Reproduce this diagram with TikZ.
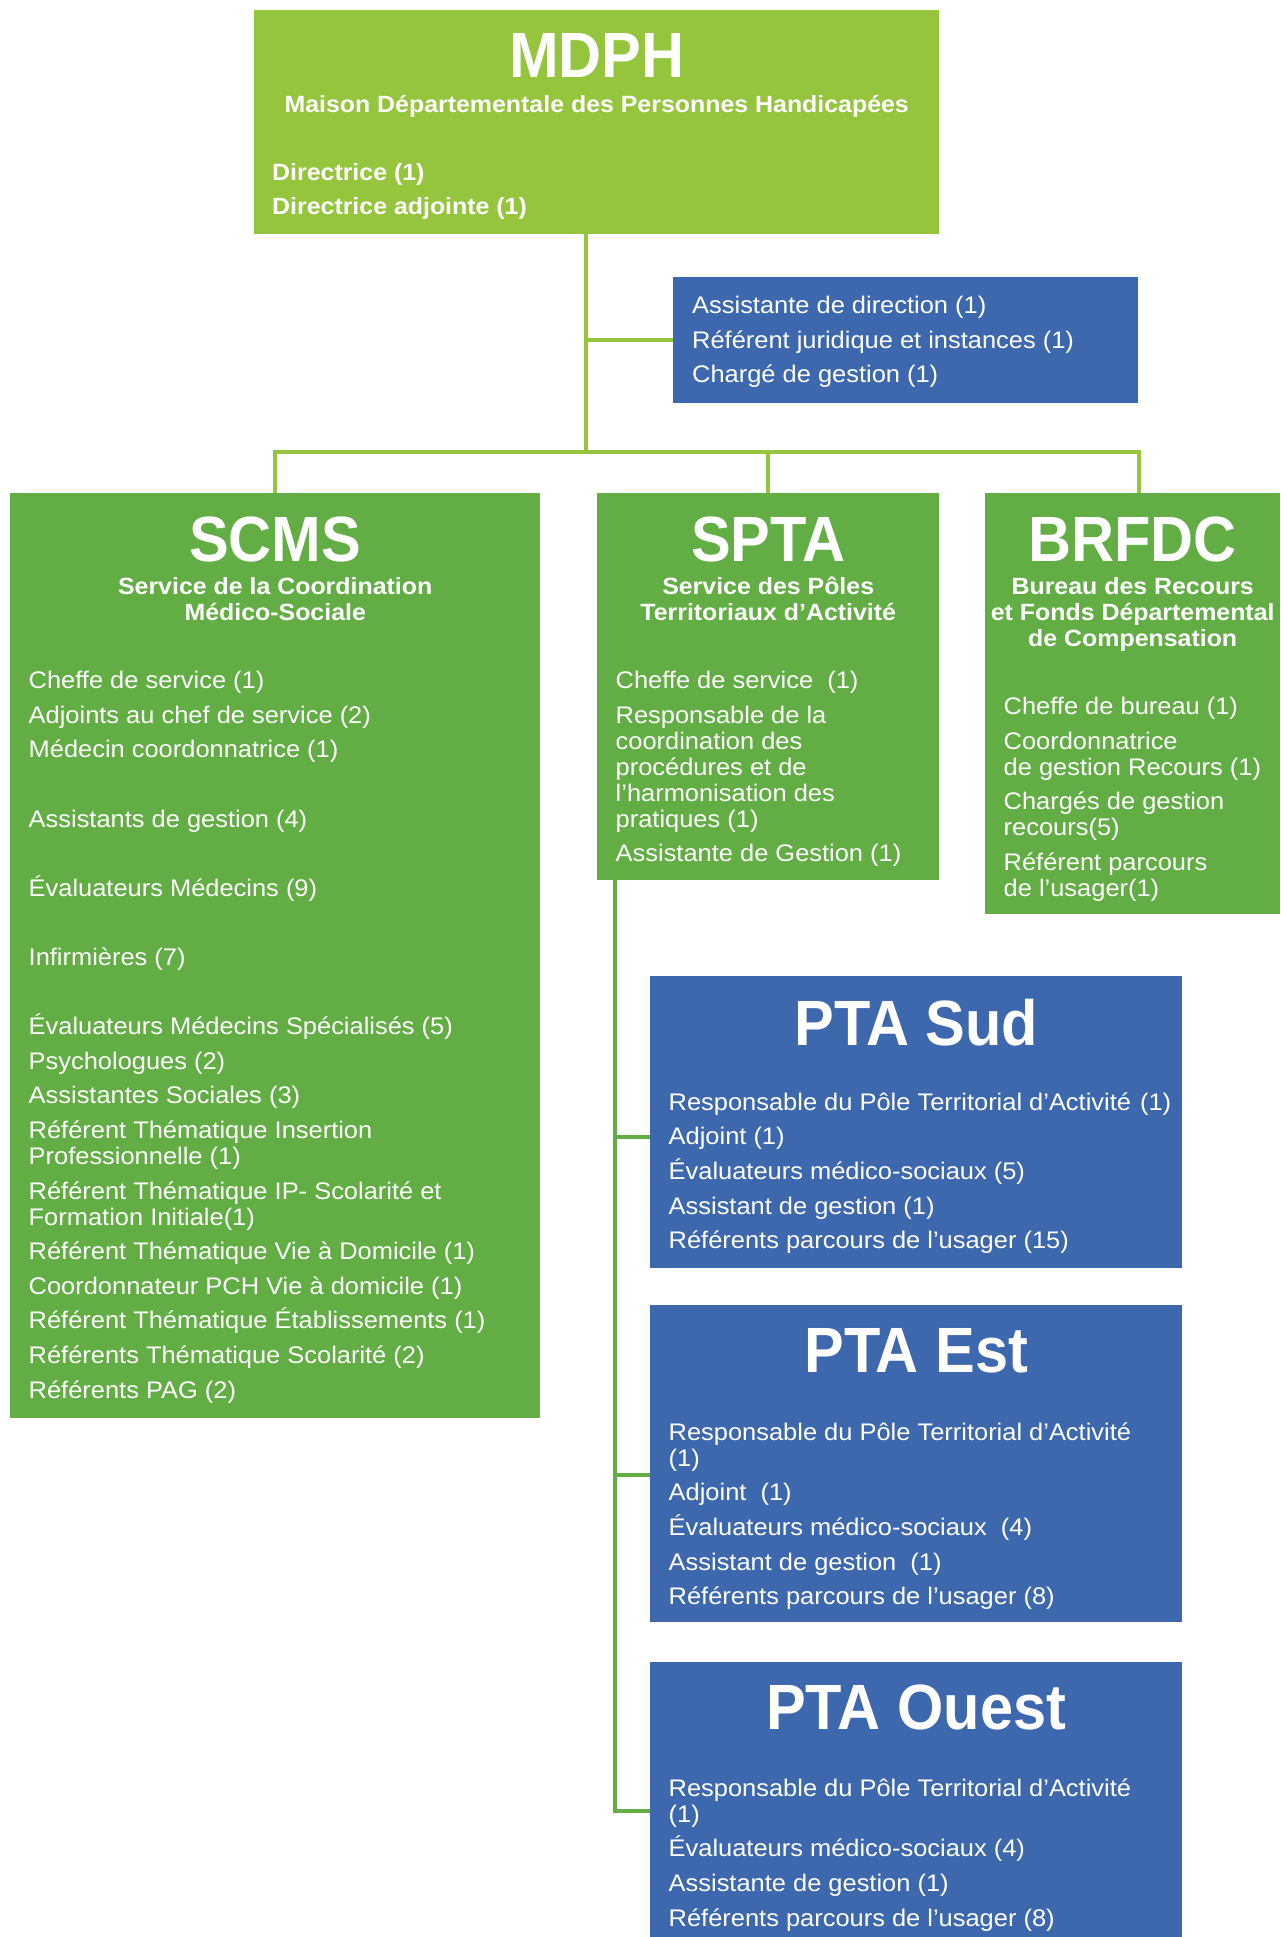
\documentclass[tikz,border=0pt]{standalone}
\usepackage{fontspec}
\setmainfont[FakeStretch=1.06]{Liberation Sans}
\newfontfamily\titlefont[FakeStretch=0.93]{Liberation Sans}
\usetikzlibrary{positioning}

\definecolor{mdphgreen}{HTML}{95C43D}
\definecolor{unitgreen}{HTML}{62AD44}
\definecolor{ptablue}{HTML}{3D68AD}

\newcommand{\nextrole}{\\[8.6pt]}

\begin{document}
\begin{tikzpicture}[x=1pt, y=1pt,
    box/.style={rectangle, inner sep=0pt, anchor=north west},
    heading/.style={text=white, inner sep=0pt, font={\fontsize{64}{64}\selectfont\titlefont\bfseries}},
    subhead/.style={text=white, inner sep=0pt, align=center, font={\fontsize{23.5}{26}\selectfont\bfseries}},
    staff/.style={text=white, inner sep=0pt, align=left, font={\fontsize{24}{26}\selectfont}},
    link/.style={draw=mdphgreen, line width=4pt},
    sublink/.style={draw=unitgreen, line width=4pt}]

    \useasboundingbox (0,0) rectangle (1280,-1937);

    % direction
    \node (mdph) [box, fill=mdphgreen, minimum width=685pt, minimum height=224pt] at (254,-10) {};
    \node (mdphTitle) [heading, below=23pt of mdph.north] {MDPH};
    \node (mdphSub) [subhead, below=85pt of mdph.north] {Maison Départementale des Personnes Handicapées};
    \node (mdphStaff) [staff, font={\fontsize{23.5}{26}\selectfont\bfseries}, below right=153pt and 18pt of mdph.north west]
        {Directrice (1)\nextrole Directrice adjointe (1)};

    \node (assist) [box, fill=ptablue, minimum width=465pt, minimum height=126pt] at (673,-277) {};
    \node (assistStaff) [staff, below right=19pt and 19pt of assist.north west]
        {Assistante de direction (1)\nextrole Référent juridique et instances (1)\nextrole Chargé de gestion (1)};

    % services
    \node (scms) [box, fill=unitgreen, minimum width=530pt, minimum height=925pt] at (10,-493) {};
    \node (scmsTitle) [heading, below=24pt of scms.north] {SCMS};
    \node (scmsSub) [subhead, below=84pt of scms.north] {Service de la Coordination\\Médico-Sociale};
    \node (scmsStaff) [staff, below right=178pt and 18.5pt of scms.north west]
        {Cheffe de service (1)\nextrole
         Adjoints au chef de service (2)\nextrole
         Médecin coordonnatrice (1)\\[43.2pt]
         Assistants de gestion (4)\\[43.2pt]
         Évaluateurs Médecins (9)\\[43.2pt]
         Infirmières (7)\\[43.2pt]
         Évaluateurs Médecins Spécialisés (5)\nextrole
         Psychologues (2)\nextrole
         Assistantes Sociales (3)\nextrole
         Référent Thématique Insertion\\Professionnelle (1)\nextrole
         Référent Thématique IP- Scolarité et\\Formation Initiale(1)\nextrole
         Référent Thématique Vie à Domicile (1)\nextrole
         Coordonnateur PCH Vie à domicile (1)\nextrole
         Référent Thématique Établissements (1)\nextrole
         Référents Thématique Scolarité (2)\nextrole
         Référents PAG (2)};

    \node (spta) [box, fill=unitgreen, minimum width=342pt, minimum height=387pt] at (597,-493) {};
    \node (sptaTitle) [heading, below=24pt of spta.north] {SPTA};
    \node (sptaSub) [subhead, below=84pt of spta.north] {Service des Pôles\\Territoriaux d’Activité};
    \node (sptaStaff) [staff, below right=178pt and 18.5pt of spta.north west]
        {Cheffe de service\ \ (1)\nextrole
         Responsable de la\\coordination des\\procédures et de\\l’harmonisation des\\pratiques (1)\nextrole
         Assistante de Gestion (1)};

    \node (brfdc) [box, fill=unitgreen, minimum width=295pt, minimum height=421pt] at (985,-493) {};
    \node (brfdcTitle) [heading, below=24pt of brfdc.north] {BRFDC};
    \node (brfdcSub) [subhead, below=84pt of brfdc.north] {Bureau des Recours\\et Fonds Départemental\\de Compensation};
    \node (brfdcStaff) [staff, below right=204pt and 18.5pt of brfdc.north west]
        {Cheffe de bureau (1)\nextrole
         Coordonnatrice\\de gestion Recours (1)\nextrole
         Chargés de gestion\\recours(5)\nextrole
         Référent parcours\\de l’usager(1)};

    % poles territoriaux
    \node (ptaSud) [box, fill=ptablue, minimum width=532pt, minimum height=292pt] at (650,-976) {};
    \node (ptaSudTitle) [heading, below=23pt of ptaSud.north] {PTA Sud};
    \node (ptaSudStaff) [staff, below right=116.5pt and 18.5pt of ptaSud.north west]
        {Responsable du Pôle Territorial d’Activité\ \hspace{2pt}(1)\nextrole
         Adjoint (1)\nextrole
         Évaluateurs médico-sociaux (5)\nextrole
         Assistant de gestion (1)\nextrole
         Référents parcours de l’usager (15)};

    \node (ptaEst) [box, fill=ptablue, minimum width=532pt, minimum height=317pt] at (650,-1305) {};
    \node (ptaEstTitle) [heading, below=23pt of ptaEst.north] {PTA Est};
    \node (ptaEstStaff) [staff, below right=117.5pt and 18.5pt of ptaEst.north west]
        {Responsable du Pôle Territorial d’Activité\\(1)\nextrole
         Adjoint\ \ (1)\nextrole
         Évaluateurs médico-sociaux\ \ (4)\nextrole
         Assistant de gestion\ \ (1)\nextrole
         Référents parcours de l’usager (8)};

    \node (ptaOuest) [box, fill=ptablue, minimum width=532pt, minimum height=276pt] at (650,-1662) {};
    \node (ptaOuestTitle) [heading, below=23pt of ptaOuest.north] {PTA Ouest};
    \node (ptaOuestStaff) [staff, below right=116.5pt and 18.5pt of ptaOuest.north west]
        {Responsable du Pôle Territorial d’Activité\\(1)\nextrole
         Évaluateurs médico-sociaux (4)\nextrole
         Assistante de gestion (1)\nextrole
         Référents parcours de l’usager (8)};

    % connectors
    \coordinate (mdphFoot) at (586,-234);
    \coordinate (bus) at (586,-452);
    \coordinate (sptaFoot) at (615,-880);

    \draw[link] (mdphFoot) -- (bus);
    \draw[link] (assist.west) -| (mdphFoot);
    \draw[link] (scms.north) |- (bus) -| ([xshift=6pt]brfdc.north);
    \draw[link] (spta.north) -- (spta.north |- bus);

    \draw[sublink] ([yshift=-15pt]ptaSud.west) -| (sptaFoot);
    \draw[sublink] ([yshift=-11pt]ptaEst.west) -| (sptaFoot);
    \draw[sublink] ([yshift=-11pt]ptaOuest.west) -| (sptaFoot);
\end{tikzpicture}
\end{document}
